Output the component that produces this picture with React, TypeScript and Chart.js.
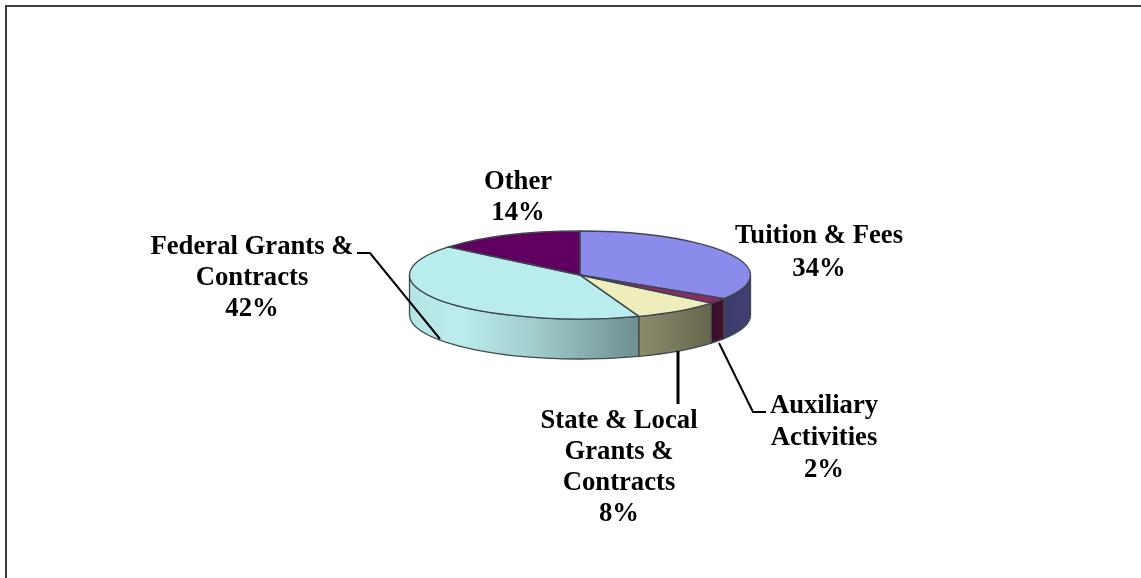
import React, { useEffect, useRef } from "react";
import { Chart, registerables } from "chart.js";

Chart.register(...registerables);

const categories = ["Tuition & Fees", "Auxiliary Activities", "State & Local Grants & Contracts", "Federal Grants & Contracts", "Other"];
const shares = [34, 2, 8.4, 41.6, 14];
const shownPercent = ["34%", "2%", "8%", "42%", "14%"];
const labelLines = [
  ["Tuition & Fees", "34%"],
  ["Auxiliary", "Activities", "2%"],
  ["State & Local", "Grants &", "Contracts", "8%"],
  ["Federal Grants &", "Contracts", "42%"],
  ["Other", "14%"],
];
const topColors = ["#8b8bec", "#8c2a66", "#eeeebd", "#b9ecec", "#5f0060"];
const sideStops = [
  ["#3c3c6c", "#3f3f72"],
  ["#3a0f2c", "#451030"],
  ["#8c8c6c", "#66664e"],
  ["#b9e9e9", "#6d8f8f"],
  ["#300030", "#300030"],
];

const DEPTH = 40;
const SQUASH = 44 / 170.5;
const FONT = "bold 26.7px 'Liberation Serif'";
const labelLineHeights = [33, 32, 31, 31, 31];
const labelAnchors = [
  [819, 236],
  [824, 406],
  [619, 421],
  [252, 247],
  [518, 182],
];
const leaders = [
  null,
  { w: 2, pts: [[719, 343], [753, 412], [766, 412]] },
  { w: 3, pts: [[678, 351], [678, 404]] },
  { w: 2, pts: [[440, 339], [370, 253], [357, 253]] },
  null,
];

const pie3d = {
  id: "pie3d",
  beforeDraw(chart: any) {
    const ctx = chart.ctx;
    ctx.save();
    ctx.fillStyle = "#ffffff";
    ctx.fillRect(0, 0, chart.width, chart.height);
    ctx.strokeStyle = "#000000";
    ctx.lineWidth = 1.5;
    ctx.beginPath();
    ctx.moveTo(chart.width, 6);
    ctx.lineTo(6, 6);
    ctx.stroke();
    ctx.lineWidth = 2;
    ctx.strokeStyle = "#3a3a3a";
    ctx.beginPath();
    ctx.moveTo(6, 5);
    ctx.lineTo(6, chart.height);
    ctx.stroke();
    ctx.restore();
  },
  beforeDatasetsDraw(chart: any) {
    const ctx = chart.ctx;
    const arcs = chart.getDatasetMeta(0).data;
    const first = arcs[0];
    const cx = first.x;
    const cy = first.y;
    const rx = first.outerRadius;
    const ry = rx * SQUASH;
    ctx.save();
    ctx.lineWidth = 1.3;
    ctx.strokeStyle = "#3f4a4a";
    arcs.forEach((arc: any, i: number) => {
      const s = Math.max(arc.startAngle, 0);
      const e = Math.min(arc.endAngle, Math.PI);
      if (e <= s) return;
      const left = cx + rx * Math.cos(e);
      const right = cx + rx * Math.cos(s);
      const g = ctx.createLinearGradient(left, 0, right, 0);
      if (i === 3) {
        g.addColorStop(0, "#b4e4e4");
        g.addColorStop(0.22, "#bcecec");
        g.addColorStop(0.55, "#a0cccc");
        g.addColorStop(1, "#6d8f8f");
      } else {
        g.addColorStop(0, sideStops[i][0]);
        g.addColorStop(1, sideStops[i][1]);
      }
      ctx.beginPath();
      ctx.ellipse(cx, cy, rx, ry, 0, s, e);
      ctx.lineTo(cx + rx * Math.cos(e), cy + ry * Math.sin(e) + DEPTH);
      ctx.ellipse(cx, cy + DEPTH, rx, ry, 0, e, s, true);
      ctx.closePath();
      ctx.fillStyle = g;
      ctx.fill();
      ctx.stroke();
    });
    ctx.restore();
    ctx.save();
    ctx.translate(cx, cy);
    ctx.scale(1, SQUASH);
    ctx.translate(-cx, -cy);
  },
  afterDatasetsDraw(chart: any) {
    const ctx = chart.ctx;
    ctx.restore();
    const arcs = chart.getDatasetMeta(0).data;
    const { x: cx, y: cy, outerRadius: rx } = arcs[0];
    const ry = rx * SQUASH;
    ctx.save();
    ctx.lineWidth = 1.3;
    ctx.strokeStyle = "#3f4650";
    arcs.forEach((arc: any) => {
      ctx.beginPath();
      ctx.moveTo(cx, cy);
      ctx.ellipse(cx, cy, rx, ry, 0, arc.startAngle, arc.endAngle);
      ctx.closePath();
      ctx.stroke();
    });
    ctx.restore();
    ctx.save();
    ctx.strokeStyle = "#000000";
    leaders.forEach((leader) => {
      if (!leader) return;
      ctx.lineWidth = leader.w;
      ctx.beginPath();
      leader.pts.forEach(([x, y], k) => (k ? ctx.lineTo(x, y) : ctx.moveTo(x, y)));
      ctx.stroke();
    });
    ctx.fillStyle = "#000000";
    ctx.font = FONT;
    ctx.textAlign = "center";
    ctx.textBaseline = "middle";
    labelLines.forEach((lines, i) => {
      const [x, y] = labelAnchors[i];
      lines.forEach((t, k) => ctx.fillText(t, x, y + k * labelLineHeights[i]));
    });
    ctx.restore();
  },
};

export default function App() {
  const ref = useRef<HTMLCanvasElement>(null);
  useEffect(() => {
    document.body.style.margin = "0";
    const chart = new Chart(ref.current!, {
      type: "pie",
      data: {
        labels: categories.map((c, i) => `${c} ${shownPercent[i]}`),
        datasets: [{ data: shares, backgroundColor: topColors, borderWidth: 0 }],
      },
      options: {
        responsive: false,
        animation: false,
        rotation: 0,
        layout: { padding: { left: 409.5, right: 390.5, top: 104.5, bottom: 132.5 } },
        plugins: { legend: { display: false }, tooltip: { enabled: false } },
      },
      plugins: [pie3d],
    } as any);
    return () => chart.destroy();
  }, []);
  return <canvas ref={ref} width={1141} height={578} style={{ display: "block" }} />;
}
